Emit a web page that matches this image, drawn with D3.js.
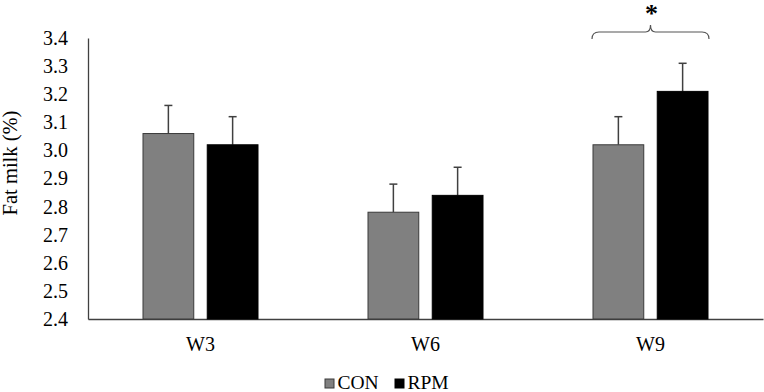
<!DOCTYPE html>
<html>
<head>
<meta charset="utf-8">
<script src="https://cdn.jsdelivr.net/npm/d3@7"></script>
<style>
  body { margin: 0; background: #fff; }
  text { font-family: "Liberation Serif", "Times New Roman", serif; fill: #000; }
</style>
</head>
<body>
<script>
// weeks and treatments
var groups = ["W3", "W6", "W9"]
var series = ["CON", "RPM"]
var conValues = [3.06, 2.78, 3.02]
var rpmValues = [3.02, 2.84, 3.21]
var conErr = [0.10, 0.10, 0.10]
var rpmErr = [0.10, 0.10, 0.10]
var yTicks = [2.4, 2.5, 2.6, 2.7, 2.8, 2.9, 3.0, 3.1, 3.2, 3.3, 3.4]
var colors = { CON: "#808080", RPM: "#000000" }
var strokes = { CON: "#3a3a3a", RPM: "#000000" }

var width = 764
var height = 392
var plotLeft = 88, plotRight = 763, plotTop = 38, plotBottom = 319

var dataset = []
groups.forEach(function (g, i) {
    dataset.push({ group: g, key: "CON", value: conValues[i], err: conErr[i] })
    dataset.push({ group: g, key: "RPM", value: rpmValues[i], err: rpmErr[i] })
})

var svg = d3.select("body").append("svg")
    .attr("width", width)
    .attr("height", height)

var x0 = d3.scaleBand().domain(groups).range([plotLeft, plotRight])
var x1 = d3.scaleBand().domain(series).range([55, 170]).paddingInner(0.21)
var yScale = d3.scaleLinear().domain([2.4, 3.4]).range([plotBottom, plotTop])

//y axis
var yAxis = d3.axisLeft(yScale)
    .tickValues(yTicks)
    .tickSize(0)
    .tickPadding(20)
    .tickFormat(d3.format(".1f"))

var gy = svg.append("g")
    .attr("transform", "translate(" + plotLeft + ",0)")
    .call(yAxis)
gy.select(".domain").attr("stroke", "#404040").attr("stroke-width", 1.3)
gy.selectAll("text").style("font-size", "20px")

//x axis
var xAxis = d3.axisBottom(x0).tickSize(0).tickPadding(18)
var gx = svg.append("g")
    .attr("transform", "translate(0," + plotBottom + ")")
    .call(xAxis)
gx.select(".domain").attr("stroke", "#404040").attr("stroke-width", 1.3)
gx.selectAll("text").style("font-size", "20px")

//y label
svg.append("text")
    .attr("transform", "rotate(-90)")
    .attr("x", -163)
    .attr("y", 17)
    .attr("text-anchor", "middle")
    .style("font-size", "20.5px")
    .text("Fat milk (%)")

//error bars (upper only), drawn before bars
var errG = svg.append("g")
dataset.forEach(function (d) {
    var cx = x0(d.group) + x1(d.key) + x1.bandwidth() / 2
    errG.append("line")
        .attr("x1", cx).attr("x2", cx)
        .attr("y1", yScale(d.value)).attr("y2", yScale(d.value + d.err))
        .attr("stroke", "#404040").attr("stroke-width", 1.5)
    errG.append("line")
        .attr("x1", cx - 4).attr("x2", cx + 4)
        .attr("y1", yScale(d.value + d.err)).attr("y2", yScale(d.value + d.err))
        .attr("stroke", "#404040").attr("stroke-width", 1.5)
})

//bars
svg.selectAll("rect.bar")
    .data(dataset)
    .enter()
    .append("rect")
    .attr("class", "bar")
    .attr("x", (d) => x0(d.group) + x1(d.key))
    .attr("y", (d) => yScale(d.value))
    .attr("width", x1.bandwidth())
    .attr("height", (d) => yScale(2.4) - yScale(d.value))
    .attr("fill", (d) => colors[d.key])
    .attr("stroke", (d) => strokes[d.key])
    .attr("stroke-width", 1)

//significance brace over W9
var bx0 = x0("W9") + x1("CON") - 1
var bx1 = x0("W9") + x1("RPM") + x1.bandwidth() + 1
var bm = (bx0 + bx1) / 2
var by = yScale(3.4) - 6
var brace = "M" + bx0 + "," + (by + 7) +
    " Q" + bx0 + "," + by + " " + (bx0 + 7) + "," + by +
    " L" + (bm - 5) + "," + by +
    " Q" + bm + "," + by + " " + bm + "," + (by - 7) +
    " Q" + bm + "," + by + " " + (bm + 5) + "," + by +
    " L" + (bx1 - 7) + "," + by +
    " Q" + bx1 + "," + by + " " + bx1 + "," + (by + 7)
svg.append("path")
    .attr("d", brace)
    .attr("fill", "none")
    .attr("stroke", "#555")
    .attr("stroke-width", 1.2)

svg.append("text")
    .attr("x", bm + 1)
    .attr("y", 22)
    .attr("text-anchor", "middle")
    .style("font-size", "26px")
    .style("font-weight", "bold")
    .text("*")

//legend
var legend = svg.append("g")
var legendX = [325, 395]
series.forEach(function (s, i) {
    legend.append("rect")
        .attr("x", legendX[i]).attr("y", 379)
        .attr("width", 9).attr("height", 9)
        .attr("fill", colors[s])
        .attr("stroke", strokes[s]).attr("stroke-width", 1)
    legend.append("text")
        .attr("x", legendX[i] + 12.5).attr("y", 388.5)
        .style("font-size", "19.5px")
        .text(s)
})
</script>
</body>
</html>
